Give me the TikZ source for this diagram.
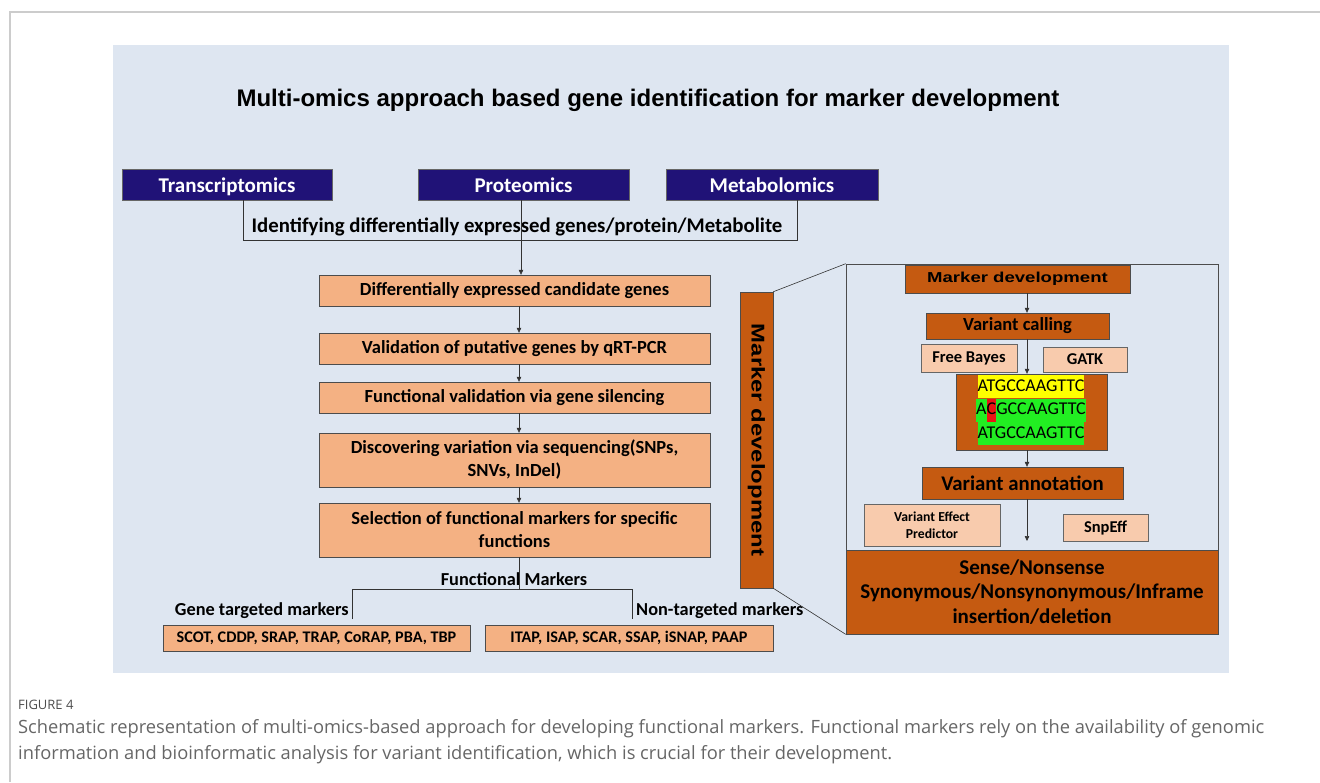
\documentclass[tikz,border=0pt]{standalone}
\usepackage{fontspec}
\setmainfont{Carlito}
\newfontfamily\arialfont{Liberation Sans}
\newfontfamily\capfont{Open Sans}
\usepackage{graphicx}
\usetikzlibrary{arrows.meta}
\setlength{\fboxsep}{0pt}
\definecolor{navy}{RGB}{32,18,119}
\definecolor{peachorange}{HTML}{F4B183}
\definecolor{rust}{HTML}{C55A11}
\definecolor{peach}{HTML}{F8CBAD}
\definecolor{panelblue}{HTML}{DEE6F1}
\definecolor{snpyellow}{HTML}{FFFF00}
\definecolor{snpgreen}{HTML}{22EE22}
\definecolor{snpred}{RGB}{235,20,20}
\newcommand{\setfs}[2]{\fontsize{#1}{#2}\selectfont}

\begin{document}
\begin{tikzpicture}[
  x=1pt, y=-1pt,
  >={Triangle[length=5pt,width=4.5pt]},
  omics/.style={draw=black!60, fill=navy, text=white, inner sep=0pt,
    minimum height=31pt, text height=20pt, text depth=4pt,
    font=\bfseries\setfs{21}{24}},
  stepbox/.style={draw=black!70, fill=peachorange, inner sep=0pt,
    minimum width=391pt, align=center, font=\bfseries\setfs{18.5}{23}},
  darkbox/.style={draw=black!70, fill=rust, inner sep=0pt, align=center},
  toolbox/.style={draw=black!60, fill=peach, inner sep=0pt, align=center,
    font=\bfseries\setfs{16.5}{19}},
  lbl/.style={inner sep=0pt, font=\bfseries\setfs{18.3}{22}},
  seqrow/.style={inner sep=0pt, font=\setfs{18}{23}},
  link/.style={line width=0.6pt, black!80}
]
\useasboundingbox (0,0) rectangle (1320,782);

% page frame and panel
\draw[black!20, line width=1.5pt] (10,782) -- (10,12) -- (1320,12);
\fill[panelblue] (113,45) rectangle (1229,673);

\node[inner sep=0pt, font=\arialfont\bfseries\setfs{24}{28}] (title) at (648,100)
  {Multi-omics approach based gene identification for marker development};

% omics layers
\node[omics, minimum width=210pt] (trans) at (227,184.5) {Transcriptomics};
\node[omics, minimum width=211pt] (prot) at (523.5,184.5) {Proteomics};
\node[omics, minimum width=212pt] (metab) at (772,184.5) {Metabolomics};
\node[lbl, font=\bfseries\setfs{20.8}{24}] (ident) at (517,227)
  {Identifying differentially expressed genes/protein/Metabolite};

\coordinate (idL) at (243,240);
\coordinate (idR) at (797,240);
\coordinate (px) at (521,0);
\coordinate (cx) at (519,0);
\draw[link] (trans.south -| idL) -- (idL) -- (idR) -- (metab.south -| idR);

% candidate gene pipeline
\node[stepbox, minimum height=31pt] (c1) at (514.5,290.5) {Differentially expressed candidate genes};
\node[stepbox, minimum height=31pt] (c2) at (514.5,348.5) {Validation of putative genes by qRT-PCR};
\node[stepbox, minimum height=31pt] (c3) at (514.5,397.5) {Functional validation via gene silencing};
\node[stepbox, minimum height=54pt] (c4) at (514.5,460) {Discovering variation via sequencing(SNPs,\\SNVs, InDel)};
\node[stepbox, minimum height=54pt] (c5) at (514.5,530) {Selection of functional markers for specific\\functions};

\draw[link,->] (prot.south -| px) -- (c1.north -| px);
\foreach \a/\b in {c1/c2,c2/c3,c3/c4,c4/c5} {
  \draw[link,->] (\a.south -| cx) -- (\b.north -| cx);
}

% functional marker split
\node[lbl] (fmark) at (514,579) {Functional Markers};
\coordinate (fmL) at (352,589);
\coordinate (fmR) at (632,589);
\coordinate (gtEnd) at (352,619);
\coordinate (ntEnd) at (632,619);
\draw[link] (c5.south -| cx) -- (cx |- fmL);
\draw[link] (gtEnd) -- (fmL) -- (fmR) -- (ntEnd);

\node[lbl, anchor=east] (gtlab) at (349,611) {Gene targeted markers};
\node[lbl, anchor=west] (ntlab) at (636,611) {Non-targeted markers};
\node[stepbox, minimum width=307pt, minimum height=26pt, font=\bfseries\setfs{16.2}{19}] (gtm) at (316.5,638)
  {SCOT, CDDP, SRAP, TRAP, CoRAP, PBA, TBP};
\node[stepbox, minimum width=288pt, minimum height=26pt, font=\bfseries\setfs{16.2}{19}] (ntm) at (629,638)
  {ITAP, ISAP, SCAR, SSAP, iSNAP, PAAP};

% marker development zoom
\node[darkbox, rotate=-90, minimum width=296pt, minimum height=33pt,
  font=\arialfont\bfseries\setfs{18.5}{22}] (mdvert) at (756.5,440)
  {\scalebox{1.29}[1]{Marker development}};
\node[draw=black!70, line width=0.6pt, inner sep=0pt,
  minimum width=372pt, minimum height=370pt] (zoomf) at (1032,449) {};
\draw[link] (mdvert.north west) -- (zoomf.north west);
\draw[link] (mdvert.north east) -- (zoomf.south west);

\coordinate (ax) at (1027,0);
\node[darkbox, minimum width=225pt, minimum height=28pt,
  font=\arialfont\bfseries\setfs{14.4}{17}] (mkdev) at (1017.5,279)
  {\scalebox{1.29}[1]{Marker development}};
\node[darkbox, minimum width=183pt, minimum height=26pt,
  font=\bfseries\setfs{18.5}{21}] (vcall) at (1017.5,326) {Variant calling};
\node[toolbox, minimum width=96pt, minimum height=28pt] (fbayes) at (969,358) {Free Bayes};
\node[toolbox, minimum width=84pt, minimum height=25pt] (gatk) at (1085,359.5) {GATK};

\node[darkbox, minimum width=151pt, minimum height=76pt] (seqbox) at (1031.5,412) {};
\node[seqrow, fill=snpyellow] (s1) at (1031,386.5) {\strut ATGCCAAGTTC};
\node[seqrow, fill=snpgreen] (s2) at (1031,410) {\strut A\colorbox{snpred}{\strut C}GCCAAGTTC};
\node[seqrow, fill=snpgreen] (s3) at (1031,433.5) {\strut ATGCCAAGTTC};

\node[darkbox, minimum width=201pt, minimum height=32pt,
  font=\bfseries\setfs{20.8}{24}] (vannot) at (1022.5,483) {Variant annotation};
\node[toolbox, minimum width=136pt, minimum height=42pt,
  font=\bfseries\setfs{13.7}{17}] (vep) at (932,525) {Variant Effect\\Predictor};
\node[toolbox, minimum width=85pt, minimum height=27pt] (snpeff) at (1105.5,527.5) {SnpEff};
\node[darkbox, minimum width=372pt, minimum height=84pt,
  font=\bfseries\setfs{21}{24.5}] (effect) at (1032,592)
  {Sense/Nonsense\\Synonymous/Nonsynonymous/Inframe\\insertion/deletion};
\coordinate (vaEnd) at (1027,541);

\draw[link,->] (mkdev.south -| ax) -- (vcall.north -| ax);
\draw[link,->] (vcall.south -| ax) -- (seqbox.north -| ax);
\draw[link,->] (seqbox.south -| ax) -- (vannot.north -| ax);
\draw[link,->] (vannot.south -| ax) -- (vaEnd);

% caption
\node[anchor=west, inner sep=0pt, text=black!70, font=\capfont\setfs{13}{15}] (figlab) at (18,705) {FIGURE 4};
\node[anchor=north west, inner sep=0pt, text=black!60, align=left,
  font=\capfont\setfs{18.3}{26}] (caption) at (18,719)
  {Schematic representation of multi-omics-based approach for developing functional markers. Functional markers rely on the availability of genomic\\
   information and bioinformatic analysis for variant identification, which is crucial for their development.};
\end{tikzpicture}
\end{document}
